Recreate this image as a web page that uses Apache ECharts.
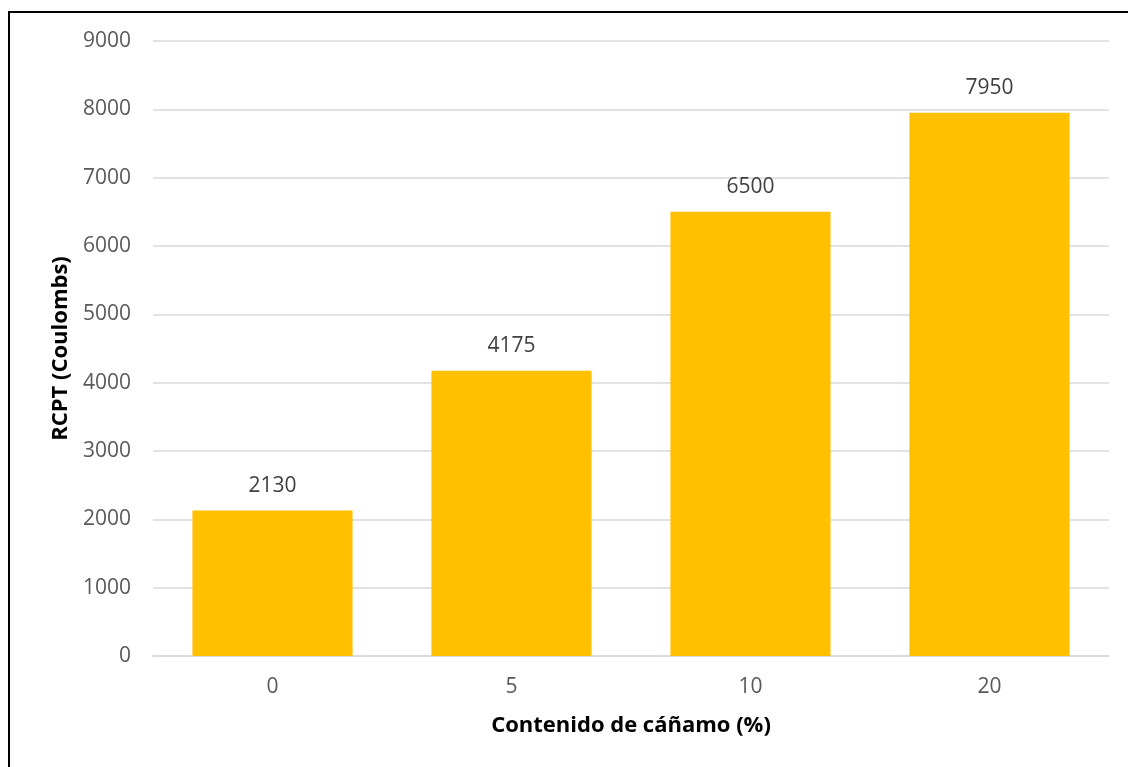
<!DOCTYPE html>
<html><head><meta charset="utf-8">
<script src="https://cdn.jsdelivr.net/npm/echarts@6/dist/echarts.min.js"></script>
<style>
html,body{margin:0;padding:0;background:#fff;overflow:hidden;}
#frame{position:absolute;left:8px;top:11px;width:1200px;height:800px;border-left:2px solid #000;border-top:2px solid #000;}
#c{position:absolute;left:0;top:0;width:1128px;height:767px;}
</style></head>
<body>
<div id="frame"></div>
<div id="c"></div>
<script>
const categories = ['0', '5', '10', '20'];
const values = [2130, 4175, 6500, 7950];
const xTitle = 'Contenido de cáñamo (%)';
const yTitle = 'RCPT (Coulombs)';

const chart = echarts.init(document.getElementById('c'), null, {renderer: 'canvas'});
const font = '"Open Sans", sans-serif';
chart.setOption({
  animation: false,
  grid: {left: 153, right: 19, top: 41, bottom: 111},
  xAxis: {
    type: 'category', data: categories,
    axisLine: {lineStyle: {color: '#d9d9d9', width: 1.5}},
    axisTick: {show: false},
    axisLabel: {color: '#595959', fontSize: 21, fontFamily: font, margin: 21},
    name: xTitle, nameLocation: 'middle', nameGap: 59,
    nameTextStyle: {color: '#000', fontSize: 22, fontWeight: 'bold', fontFamily: font}
  },
  yAxis: {
    type: 'value', min: 0, max: 9000, interval: 1000,
    axisLine: {show: false}, axisTick: {show: false},
    splitLine: {lineStyle: {color: '#d9d9d9', width: 1.5}},
    axisLabel: {color: '#595959', fontSize: 21, fontFamily: font, margin: 22,
      formatter: v => String(v)},
    name: yTitle, nameLocation: 'middle', nameGap: 80, nameRotate: 90,
    nameTextStyle: {color: '#000', fontSize: 22, fontWeight: 'bold', fontFamily: font}
  },
  series: [{
    type: 'bar', data: values, barCategoryGap: '33%',
    itemStyle: {color: '#ffc000'},
    label: {show: true, position: 'top', distance: 14, color: '#404040', fontSize: 21, fontFamily: font}
  }]
});
</script>
</body></html>
